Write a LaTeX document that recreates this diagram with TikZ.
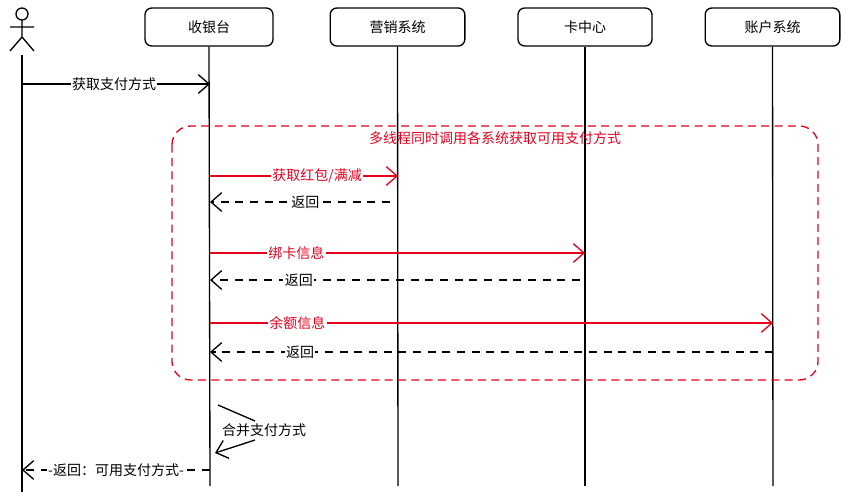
\documentclass[tikz,border=0pt]{standalone}
\usepackage{fontspec}
\setmainfont{Noto Sans CJK SC}
\usetikzlibrary{arrows.meta}
\tikzset{every picture/.style={line width=1pt}}
\tikzset{
  lane/.style={draw,rounded corners=5pt,minimum width=96pt,minimum height=28.5pt,inner sep=0pt,font=\fontsize{10.5}{12}\selectfont},
  msg/.style={-{Straight Barb[length=8pt,width=14pt]}},
  redmsg/.style={msg,color={rgb,255:red,230;green,0;blue,30}},
  back/.style={msg,dash pattern={on 6pt off 5pt}},
  lbl/.style={fill=white,inner sep=1pt,font=\fontsize{10.5}{12}\selectfont}
}
\begin{document}
\begin{tikzpicture}[x=0.75pt,y=0.75pt,yscale=-1,xscale=1]
\useasboundingbox (0,0) rectangle (848,500);

% Participants
\node[lane] (cashier) at (209,27) {收银台};
\node[lane,minimum width=101pt] (market) at (397.5,27) {营销系统};
\node[lane,minimum width=100.5pt] (card) at (585,27) {卡中心};
\node[lane,minimum width=101pt] (account) at (772.5,27) {账户系统};

% Actor
\draw (22,14) circle (6);
\draw (22,20) -- (22,37) (10,27) -- (34,27) (10,51) -- (22,37) -- (34,51);
\coordinate (userTop) at (22,55);
\coordinate (userEnd) at (22,492);

% Lifelines
\coordinate (cashierEnd) at (210,486);
\coordinate (marketEnd) at (398,486);
\coordinate (cardEnd) at (585,486);
\coordinate (accountEnd) at (773,486);
\draw (userTop) -- (userEnd);
\draw (cashier.south) -- (cashierEnd);
\draw (market.south) -- (marketEnd);
\draw (card.south) -- (cardEnd);
\draw (account.south) -- (accountEnd);

% Parallel region
\draw [color={rgb,255:red,230;green,0;blue,30},dash pattern={on 6pt off 4pt},rounded corners=14pt] (172,126) rectangle (818,380);
\node [color={rgb,255:red,230;green,0;blue,30},font=\fontsize{10.5}{12}\selectfont] (groupTitle) at (495,138) {多线程同时调用各系统获取可用支付方式};

% Messages
\draw [msg] (22,84) -- node[lbl,pos=0.49] {获取支付方式} (210,84);

\draw [redmsg] (210,176) -- node[lbl,pos=0.57,text={rgb,255:red,230;green,0;blue,30}] {获取红包/满减} (398,176);
\draw [back] (390,202) -- node[lbl,pos=0.47] {返回} (210,202);

\draw [redmsg] (210,253) -- node[lbl,pos=0.23,text={rgb,255:red,230;green,0;blue,30}] {绑卡信息} (585,253);
\draw [back] (580,280) -- node[lbl,pos=0.76] {返回} (210,280);

\draw [redmsg] (210,323) -- node[lbl,pos=0.155,text={rgb,255:red,230;green,0;blue,30}] {余额信息} (773,323);
\draw [back] (773,352) -- node[lbl,pos=0.84] {返回} (210,352);

% Self call
\node [font=\fontsize{10.5}{12}\selectfont] (merge) at (264,430) {合并支付方式};
\draw (218,405) -- (255,421);
\draw [msg] (255,440) -- (215,453);

\draw [back] (210,470) -- node[lbl,pos=0.5] {-返回：可用支付方式-} (22,470);
\end{tikzpicture}
\end{document}
